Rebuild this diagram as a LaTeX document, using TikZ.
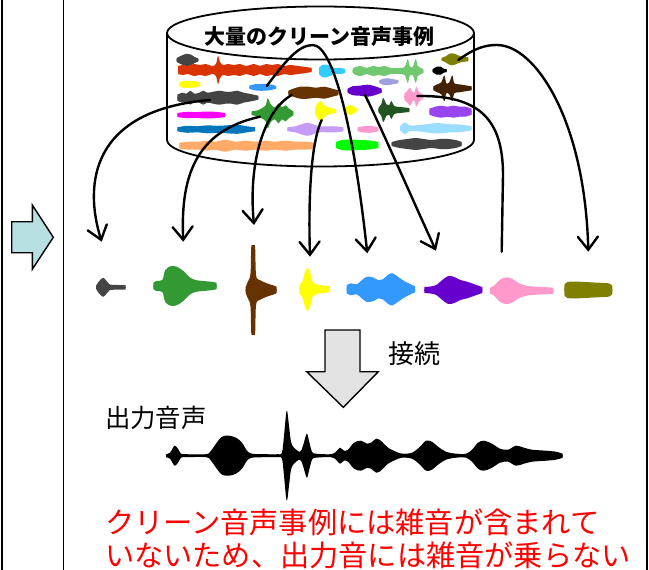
\documentclass[tikz,border=0pt]{standalone}
\usepackage{fontspec}
\newfontfamily\jp{Noto Sans CJK JP}
\usetikzlibrary{arrows.meta}

\definecolor{wgray}{HTML}{444444}
\definecolor{wred}{HTML}{D93300}
\definecolor{wcyan}{HTML}{33CCFF}
\definecolor{wlgreen}{HTML}{70C870}
\definecolor{wolive}{HTML}{808000}
\definecolor{wyellow}{HTML}{FFFF00}
\definecolor{wblue}{HTML}{3399FF}
\definecolor{wlav}{HTML}{A0A0E0}
\definecolor{wbrown}{HTML}{663300}
\definecolor{wpurple}{HTML}{6600CC}
\definecolor{wpink}{HTML}{FF99CC}
\definecolor{wdbrown}{HTML}{442200}
\definecolor{wmagenta}{HTML}{FF00FF}
\definecolor{wgreen}{HTML}{339933}
\definecolor{wdgreen}{HTML}{225522}
\definecolor{wviolet}{HTML}{9944EE}
\definecolor{wsteel}{HTML}{0077BB}
\definecolor{wlilac}{HTML}{C49CF5}
\definecolor{wsky}{HTML}{99DDFF}
\definecolor{worange}{HTML}{FFAA66}
\definecolor{wlime}{HTML}{00FF00}
\definecolor{arrowblue}{HTML}{B8E0E2}
\definecolor{arrowgray}{HTML}{E3E3E3}

% symmetric waveform blob: colour, left x, axis y, upper envelope (x,a) from x=0;
% each half reaches slightly past the axis so the two halves overlap
\newcommand\wavefill[4]{%
  \begin{scope}[shift={(#2,#3)}]
    \foreach \sgn in {1,-1}{%
      \fill[#1, yscale=\sgn] (0,-0.8) -- plot[smooth, tension=0.55] coordinates {#4} |- (0,-0.8) -- cycle;
    }
  \end{scope}}

\tikzset{
  conn/.style={line width=2.4pt, line cap=round, -{Straight Barb[length=13pt,width=20pt,line cap=round]}},
  link/.style={line width=2.4pt, line cap=round},
  frame/.style={line width=1.5pt, black},
  bigarrow/.style={draw=black, line width=1.4pt, line join=miter},
  lbl/.style={inner sep=0pt, anchor=base west},
}

\begin{document}
\begin{tikzpicture}[x=1pt, y=-1pt]
\useasboundingbox (0,0) rectangle (649,570);

% panel borders
\draw[frame] (2,0) -- (2,570);
\draw[frame] (63.5,0) -- (63.5,570);
\draw[frame] (647,0) -- (647,570);

% right-pointing block arrow
\draw[bigarrow, fill=arrowblue]
  (11.7,221.7) -- (32.3,221.7) -- (32.3,205) -- (53.3,237.3) -- (32.3,269.3)
  -- (32.3,252.7) -- (11.7,252.7) -- cycle;

% database cylinder
\draw[line width=1.8pt, fill=white]
  (167,33) -- (167,140) arc[start angle=180, end angle=0, x radius=153.5, y radius=26.5] -- (474,33);
\draw[line width=1.8pt] (320.5,33) ellipse[x radius=153.5, y radius=26.5];
\node[lbl] (title) at (204,45) {\jp\bfseries\fontsize{21}{24}\selectfont 大量のクリーン音声事例};

% clean speech samples stored in the cylinder
\wavefill{wgray}{176.7}{60}{(0,2) (4,4) (9,6) (14,5.5) (18,3) (21.6,1.5)}
\wavefill{wred}{178}{70}{(0,4) (5,5) (10,4) (16,6) (22,5) (28,6) (34,4) (38,6) (40,14) (42,8) (45,5) (50,6) (56,5) (62,6) (68,4) (76,6) (82,4) (88,6) (94,5) (100,6) (106,4) (112,5) (120,4) (128,3) (133.7,2)}
\wavefill{wcyan}{319}{71}{(0,3) (3,6) (7,6.5) (11,5) (15,3) (22,3) (26,2)}
\wavefill{wlgreen}{352.7}{71}{(0,2) (3,4) (8,5) (14,3) (20,5) (26,4) (32,5) (38,3) (46,3) (52,4) (55,12) (57,5) (60,4) (63,12) (65,5) (68,3) (70.6,2)}
\wavefill{black}{432.7}{70.7}{(0,1.5) (4,4) (8,4) (11,2) (14,1.5)}
\wavefill{wolive}{441.7}{59.3}{(0,1.5) (4,3) (9,6) (14,5) (19,3) (26.6,2)}
\wavefill{wyellow}{179.3}{84.3}{(0,2) (4,3.5) (10,3.5) (16,3) (20.7,2)}
\wavefill{wblue}{249.3}{87.3}{(0,1.5) (5,3) (12,3.5) (20,3) (26.7,1.5)}
\wavefill{wlav}{379.3}{81.7}{(0,1.5) (4,3) (8,3.5) (14,2.5) (19,1.5)}
\wavefill{wgray}{177.3}{97.7}{(0,3) (5,5) (9,4) (13,7) (17,4) (22,5) (26,7) (30,5) (36,6) (42,7) (48,6) (54,6) (60,7) (66,5) (72,4) (81,2)}
\wavefill{wbrown}{288.3}{92.7}{(0,2) (5,4) (12,6) (20,6) (28,5) (36,6) (44,4) (50,2.5)}
\wavefill{wpurple}{347.7}{90.7}{(0,2) (5,4.5) (12,5) (20,6) (27,4.5) (34,2)}
\wavefill{wpink}{404.3}{96.7}{(0,3) (3,6) (6,9) (8,5) (10,4) (12,10) (14,6) (17,3) (19,2)}
\wavefill{wdbrown}{433.3}{88.3}{(0,2) (4,4) (8,6) (11,13) (13,5) (16,6) (19,13) (21,5) (26,4) (32,3) (38.4,2)}
\wavefill{wmagenta}{177.3}{115}{(0,2) (8,3) (20,3) (30,3.5) (40,3) (47.7,2)}
\wavefill{wgreen}{251.7}{113.3}{(0,2) (6,3) (10,5) (14,8) (16,15) (19,9) (23,6) (27,10) (30,6) (34,8) (37,5) (41.6,2)}
\wavefill{wyellow}{315}{111}{(0,3) (3,8) (6,10) (9,6) (12,4) (16,3) (21,2)}
\wavefill{wyellow}{343.3}{110}{(0,2) (4,4) (8,5) (11,3) (13.4,2)}
\wavefill{wdgreen}{378.3}{110}{(0,2) (3,6) (5,12) (8,6) (11,5) (13,9) (16,4) (22,3) (31,2)}
\wavefill{wviolet}{429.3}{111.7}{(0,3) (6,5) (12,6) (18,5) (24,6) (30,5) (36,5) (42.4,3)}
\wavefill{wsteel}{177.3}{129.3}{(0,2) (10,3.5) (20,3) (30,4) (40,3.5) (50,4) (60,4.5) (70,3) (77.7,2)}
\wavefill{wlilac}{287.3}{129.3}{(0,2) (8,3) (14,5) (20,6.5) (26,5) (32,3) (40,3) (48,3) (56,2)}
\wavefill{wpink}{357.7}{129.3}{(0,2) (5,3) (12,3.5) (20.6,2)}
\wavefill{wsky}{400}{128.3}{(0,2) (5,6) (9,3) (18,3) (26,4) (34,5) (42,5) (50,4) (58,4) (66,3) (71.7,2)}
\wavefill{worange}{179.3}{145.7}{(0,3) (10,4) (20,4) (28,5) (36,4) (46,6) (56,4) (66,5) (76,4) (86,5) (96,4) (106,5) (116,4) (126,4) (135.7,3)}
\wavefill{wlime}{336}{145}{(0,3) (6,5) (14,5.5) (24,5) (34,4.5) (42.3,3)}
\wavefill{wgray}{391.7}{144}{(0,2) (8,4) (16,5) (24,6) (32,5) (40,4) (48,5) (56,5) (64,4) (70,2)}

% selected units
\wavefill{wgray}{96}{287.3}{(0,1.5) (3,6) (7,9.5) (10,7) (13,3.5) (16,2.5) (29.7,2.2)}
\wavefill{wgreen}{153.3}{286}{(0,3) (3,5) (9,6) (12,16) (18,20) (24,19) (30,15) (36,9) (42,6) (50,5) (60,4) (63.4,3)}
\wavefill{wbrown}{245.7}{290}{(0,3) (2,8) (4,12) (5,20) (5.5,42) (6.5,45) (8.5,45) (9.5,42) (10,20) (11,12) (14,10) (18,8) (23,6) (28,4.5) (31,3)}
\wavefill{wyellow}{299.3}{289.3}{(0,4) (3,8) (6,18) (8.4,21.5) (11,16) (13,8) (16,5) (22,4) (30,3)}
\wavefill{wblue}{346.7}{289.3}{(0,4) (4,6) (10,5) (15,9) (20,12.5) (26,12) (32,9) (36,10) (42,15) (46,16) (52,12) (58,8) (64,5) (68.3,3)}
\wavefill{wpurple}{424.3}{290}{(0,3) (6,3.5) (12,5) (18,10) (24,14) (30,13) (36,10) (44,8) (52,5) (58,3)}
\wavefill{wpink}{490}{290.7}{(0,3) (4,5) (10,11) (16,13.4) (22,12) (28,8) (36,5) (46,4) (56,3.5) (63.3,3)}
\wavefill{wolive}{564.3}{290}{(0,5) (3,8) (10,8.5) (20,8) (30,7.5) (40,7) (45,6.5) (48,4)}

% connectors from stored samples to selected units
\coordinate (s1) at (210,100);   \coordinate (t1) at (101.7,241.7);
\coordinate (s2) at (260,116.7); \coordinate (t2) at (183.3,241.7);
\coordinate (s3) at (291.7,95);  \coordinate (t3) at (254,225);
\coordinate (s4) at (321.7,120); \coordinate (t4) at (310,256.7);
\coordinate (s5) at (266.7,86);  \coordinate (t5) at (367.3,253.3);
\coordinate (s6) at (365,95);    \coordinate (t6) at (436,250.7);
\coordinate (s7) at (417.3,96);  \coordinate (t7) at (501.7,251.7);
\coordinate (s8) at (458.3,60);  \coordinate (t8) at (588.3,251.7);

\draw[conn] (s1) .. controls (90,110) and (84,185) .. (t1);
\draw[conn] (s2) .. controls (200,130) and (180,170) .. (t2);
\draw[conn] (s3) .. controls (265,110) and (248,160) .. (t3);
\draw[conn] (s4) .. controls (312,140) and (308,190) .. (t4);
\draw[conn] (s5) .. controls (285,62) and (298,45) .. (313,45) .. controls (335,46) and (355,140) .. (t5);
\draw[conn] (s6) .. controls (380,125) and (415,205) .. (t6);
\draw[link] (s7) .. controls (480,95) and (503,120) .. (503,175) -- (t7);
\draw[conn] (s8) .. controls (475,48) and (485,45) .. (497,45) .. controls (535,45) and (585,120) .. (t8);

% concatenation arrow
\draw[bigarrow, fill=arrowgray]
  (325,330) -- (360,330) -- (360,371.7) -- (378.3,371.7) -- (343.3,407.3)
  -- (306.7,371.7) -- (325,371.7) -- cycle;
\node[lbl] (concat) at (388,363) {\jp\fontsize{26}{30}\selectfont 接続};

% output speech
\node[lbl] (outlabel) at (105,427) {\jp\fontsize{25.4}{30}\selectfont 出力音声};
\wavefill{black}{166}{455.7}{(0,1.5) (4,3) (7,8) (9,10) (12,7) (15,2) (20,1.5) (40,1.5) (45,5) (50,12) (56,19) (63,20) (70,18) (76,13) (81,5) (86,2) (100,1.5) (112,1.5) (116,3) (118,20) (120.7,45) (123,30) (125,14) (128,8) (134,4) (137,10) (140.7,22) (143,15) (146,4) (150,2) (165,1.5) (170,4) (174,8) (178,5) (182,6) (188,13) (195,15) (201,12) (205,13) (210.7,17) (216,14) (222,8) (230,4) (236,2) (246,3) (254,9) (260,15) (266,14) (272,9) (280,4) (290,2) (300,2) (306,6) (312,13) (318,15) (326,12) (334,7) (342,6) (350,10) (358,8) (366,6) (380,5) (390,4) (396.7,2)}

% note
\node[lbl, text=red] (note1) at (105,533) {\jp\fontsize{29.2}{32}\selectfont クリーン音声事例には雑音が含まれて};
\node[lbl, text=red] (note2) at (105,566) {\jp\fontsize{29.2}{32}\selectfont いないため、出力音には雑音が乗らない};
\end{tikzpicture}
\end{document}
